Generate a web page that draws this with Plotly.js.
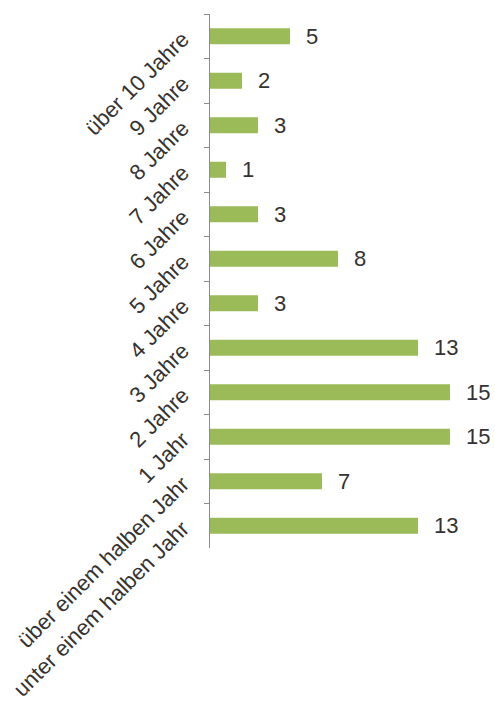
<!DOCTYPE html>
<html><head><meta charset="utf-8">
<script src="https://cdn.plot.ly/plotly-3.0.1.min.js"></script>
<style>html,body{margin:0;padding:0;background:#fff;}</style>
</head><body>
<div id="chart" style="width:495px;height:702px;"></div>
<script>
const categories = ["über 10 Jahre","9 Jahre","8 Jahre","7 Jahre","6 Jahre","5 Jahre","4 Jahre","3 Jahre","2 Jahre","1 Jahr","über einem halben Jahr","unter einem halben Jahr"];
const values = [5,2,3,1,3,8,3,13,15,15,7,13];

const FONT = '"Liberation Sans", Arial, sans-serif';
const trace = {
  type: 'bar', orientation: 'h',
  x: values, y: categories,
  marker: {color: '#9bbb59'},
  width: 0.36,
  hoverinfo: 'none'
};
const annotations = values.map((v,i)=>({
  x: v, y: categories[i], xref:'x', yref:'y',
  text: String(v), showarrow:false, xanchor:'left', yanchor:'middle',
  xshift: 14, font:{family:FONT, size:22, color:'#333333'}
}));
const layout = {
  width:495, height:702,
  margin:{l:210, r:13, t:14, b:154},
  paper_bgcolor:'#fff', plot_bgcolor:'#fff',
  showlegend:false,
  font:{family:FONT, size:22, color:'#333333'},
  xaxis:{range:[0,17], visible:false, showgrid:false, zeroline:false},
  yaxis:{type:'category', autorange:'reversed', showline:true, linecolor:'#8c8c8c', linewidth:1,
    ticks:'outside', tickson:'boundaries', ticklen:5, tickcolor:'#8c8c8c',
    tickangle:-45, showgrid:false, zeroline:false, ticklabelstandoff:22,
    tickfont:{family:FONT, size:22, color:'#333333'}},
  annotations: annotations
};
Plotly.newPlot('chart',[trace],layout,{displayModeBar:false, staticPlot:true});
</script>
</body></html>
